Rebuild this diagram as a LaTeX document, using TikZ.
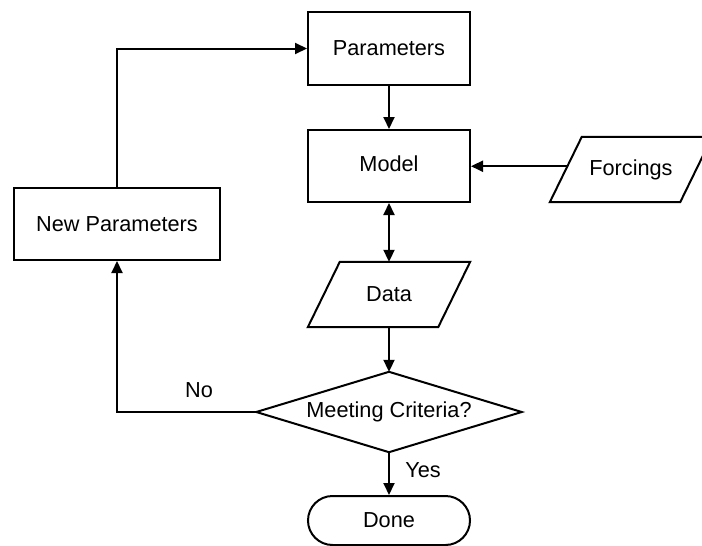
\documentclass[tikz,border=0pt]{standalone}
\usepackage{fontspec}
\setmainfont{Liberation Sans}
\usetikzlibrary{arrows.meta,shapes.misc,calc}
\begin{document}
\begin{tikzpicture}[x=1pt,y=-1pt,
  txt/.style={font=\fontsize{21.7}{26}\selectfont},
  box/.style={draw,line width=2pt,minimum width=162pt,minimum height=72pt,inner sep=0pt,txt},
  ghost/.style={draw=none,inner sep=0pt,txt},
  outline/.style={line width=2pt,line join=miter},
  link/.style={line width=2pt,-{Triangle[length=12pt,width=11pt]}},
  dlink/.style={line width=2pt,{Triangle[length=12pt,width=11pt]}-{Triangle[length=12pt,width=11pt]}}]
\useasboundingbox (0,0) rectangle (702,546);
% nodes
\node[box,minimum height=73pt] (par) at (389,48.5) {Parameters};
\node[box] (model) at (389,166) {\raisebox{5pt}{Model}};
\node[box,minimum width=206pt] (newp) at (117,224) {\raisebox{-4pt}{New Parameters}};
\node[ghost,minimum width=162pt,minimum height=65pt] (data) at (389,294.5) {Data};
\draw[outline] (data.south west) -- ([xshift=-32pt]data.south east) -- (data.north east) -- ([xshift=32pt]data.north west) -- cycle;
\node[ghost,minimum width=162pt,minimum height=65pt] (forc) at (631,169.5) {Forcings};
\draw[outline] (forc.south west) -- ([xshift=-32pt]forc.south east) -- (forc.north east) -- ([xshift=32pt]forc.north west) -- cycle;
\node[ghost,minimum width=265pt,minimum height=80pt] (crit) at (389,412) {Meeting Criteria?};
\draw[outline] (crit.west) -- (crit.north) -- (crit.east) -- (crit.south) -- cycle;
\node[draw,line width=2pt,rounded rectangle,minimum width=162pt,minimum height=49pt,inner sep=0pt,txt] (done) at (389,520.5) {Done};
\node[txt] (no) at (199,390) {No};
\node[txt] (yes) at (423,470) {Yes};
% connectors
\coordinate (fl) at ($(forc.south west)!0.55!([xshift=32pt]forc.north west)$);
\draw[link] (par) -- (model);
\draw[link] (fl) -- (fl -| model.east);
\draw[dlink] (model) -- (data);
\draw[link] (data.south) -- (crit.north);
\draw[link] (crit.south) -- (done.north);
\draw[link] (crit.west) -| (newp.south);
\draw[link] (newp.north) |- (par.west);
\end{tikzpicture}
\end{document}
